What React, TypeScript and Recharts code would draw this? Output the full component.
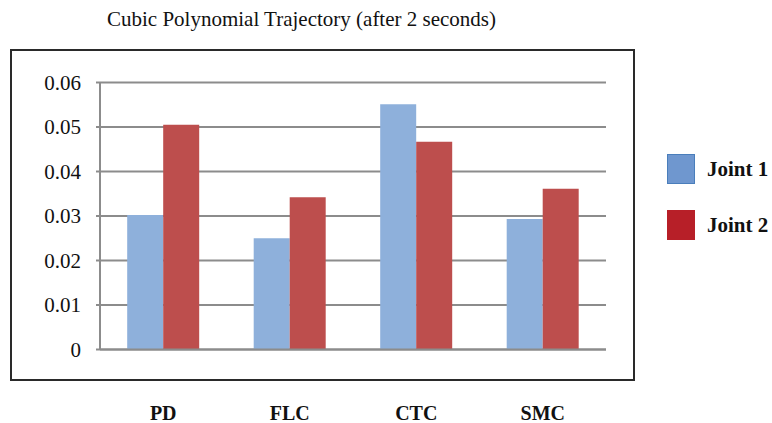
import React from 'react';
import { BarChart, Bar, XAxis, YAxis, CartesianGrid, Legend } from 'recharts';

const categories = ['PD', 'FLC', 'CTC', 'SMC'];
const joint1 = [0.0302, 0.025, 0.0551, 0.0293];
const joint2 = [0.0505, 0.0342, 0.0467, 0.0361];
const yTicks = [0, 0.01, 0.02, 0.03, 0.04, 0.05, 0.06];
const seriesNames = ['Joint 1', 'Joint 2'];
const barColors = ['#8eb0db', '#bd4e4d'];
const legendColors = ['#6f97cf', '#b71f28'];
const legendBorders = ['#4a7ebb', '#b71f28'];
const titleText = 'Cubic Polynomial Trajectory (after 2 seconds)';

const data = categories.map((c, i) => ({ name: c, j1: joint1[i], j2: joint2[i] }));

const FONT = '"Liberation Serif", "Times New Roman", serif';

const XTick = (props: any) => {
  const { x, y, payload } = props;
  return (
    <text x={x} y={y + 70.5} textAnchor="middle" fontFamily={FONT} fontWeight="bold" fontSize={20} fill="#111">
      {payload.value}
    </text>
  );
};

const LegendContent = () => (
  <div style={{ fontFamily: FONT }}>
    {seriesNames.map((n, i) => (
      <div key={n} style={{ position: 'absolute', left: 0, top: i * 56, height: 30, width: 110 }}>
        <div
          style={{
            position: 'absolute',
            left: 0,
            top: 0,
            width: 28,
            height: 30,
            boxSizing: 'border-box',
            background: legendColors[i],
            border: `1px solid ${legendBorders[i]}`,
          }}
        />
        <div
          style={{
            position: 'absolute',
            left: 40,
            top: 3,
            fontSize: 21,
            lineHeight: '24px',
            fontWeight: 'bold',
            color: '#111',
            whiteSpace: 'nowrap',
          }}
        >
          {n}
        </div>
      </div>
    ))}
  </div>
);

export default function App() {
  return (
    <div style={{ position: 'absolute', left: 0, top: 0, width: 772, height: 423, background: '#fff', overflow: 'hidden' }}>
      <div
        style={{
          position: 'absolute',
          left: 0,
          top: 8.5,
          width: 603,
          textAlign: 'center',
          fontFamily: FONT,
          fontSize: 21,
          lineHeight: '21px',
          color: '#111',
          whiteSpace: 'nowrap',
        }}
      >
        {titleText}
      </div>
      <div
        style={{
          position: 'absolute',
          left: 10,
          top: 49,
          width: 625,
          height: 332,
          boxSizing: 'border-box',
          border: '2px solid #2a2a2a',
        }}
      />
      <div style={{ position: 'absolute', left: 0, top: 0 }}>
        <BarChart
          width={772}
          height={423}
          data={data}
          margin={{ top: 82.5, right: 166, bottom: 0, left: 0 }}
          barCategoryGap="21.5%"
          barGap={0}
        >
          <CartesianGrid vertical={false} stroke="#8c8c8c" strokeWidth={2} />
          <XAxis
            dataKey="name"
            height={73.5}
            axisLine={{ stroke: '#8c8c8c', strokeWidth: 2 }}
            tickLine={false}
            tickSize={0}
            tickMargin={0}
            tick={<XTick />}
            interval={0}
          />
          <YAxis
            width={100}
            domain={[0, 0.06]}
            ticks={yTicks}
            interval={0}
            axisLine={{ stroke: '#8c8c8c', strokeWidth: 2 }}
            tickLine={{ stroke: '#8c8c8c', strokeWidth: 2 }}
            tickSize={4}
            tickMargin={15}
            tickFormatter={(v: number) => (v === 0 ? '0' : v.toFixed(2))}
            tick={{ fontFamily: FONT, fontSize: 21, fill: '#111' }}
          />
          <Legend
            layout="vertical"
            align="center"
            verticalAlign="middle"
            content={<LegendContent />}
            wrapperStyle={{ position: 'absolute', left: 667, top: 154, width: 110, height: 90 }}
          />
          <Bar dataKey="j1" name={seriesNames[0]} fill={barColors[0]} isAnimationActive={false} />
          <Bar dataKey="j2" name={seriesNames[1]} fill={barColors[1]} isAnimationActive={false} />
        </BarChart>
      </div>
    </div>
  );
}
